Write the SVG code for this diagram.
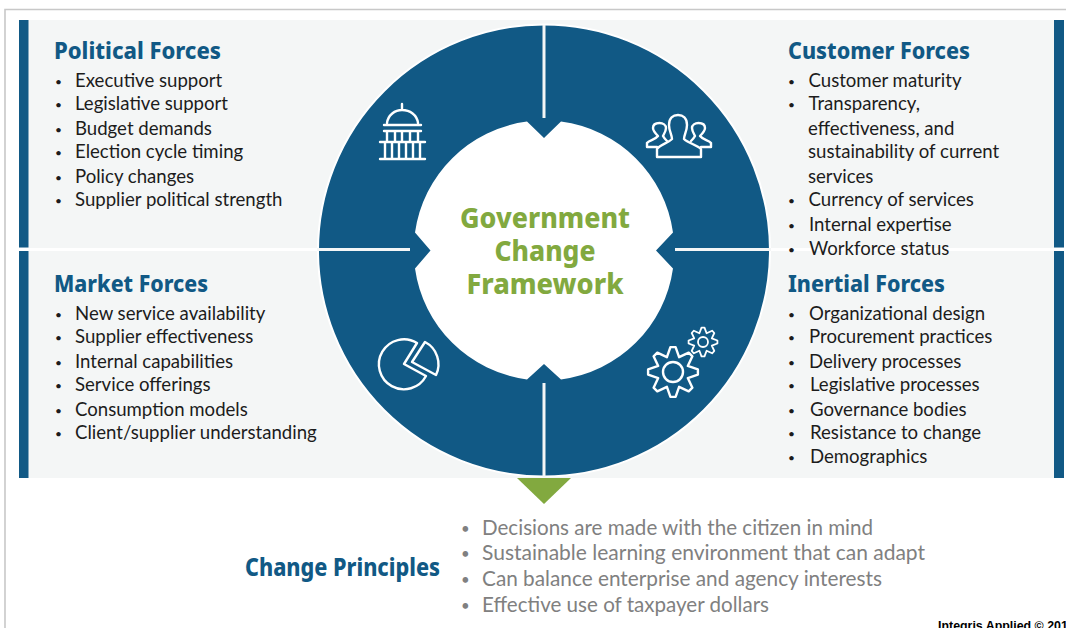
<svg xmlns="http://www.w3.org/2000/svg" width="1066" height="628" viewBox="0 0 1066 628">
<style>
.h{font-family:"Noto Sans","Open Sans",sans-serif;font-weight:800;font-size:22.500px;fill:#115985}
.b{font-family:Lato,"Noto Sans",sans-serif;font-size:18.600px;fill:#1c1c1c}
.d{font-family:Lato,"Noto Sans",sans-serif;font-size:12px;fill:#1c1c1c}
.g{font-family:Lato,"Noto Sans",sans-serif;font-size:21px;fill:#808080}
.e{font-family:Lato,"Noto Sans",sans-serif;font-size:15px;fill:#808080}
.c{font-family:"Noto Sans","Open Sans",sans-serif;font-weight:800;font-size:29px;fill:#82a93f;text-anchor:middle}
.i{fill:none;stroke:#fff;stroke-width:2.400;stroke-linejoin:round;stroke-linecap:round}
.bar{fill:#115985}
</style>
<rect width="1066" height="628" fill="#fff"/>
<path d="M5,628V9.500H1066" fill="none" stroke="#c8c8c8" stroke-width="1.600"/>
<g id="panels">
<rect x="19" y="20" width="1045" height="458" fill="#f4f6f6"/>
<rect x="19" y="248" width="1045" height="3" fill="#fff"/>
<rect class="bar" x="19" y="20" width="9.500" height="227.500"/>
<rect class="bar" x="19" y="251" width="9.500" height="227"/>
<rect class="bar" x="1054" y="20" width="10" height="227.500"/>
<rect class="bar" x="1054" y="251" width="10" height="227"/>
</g>
<g id="ring">
<circle cx="544" cy="250.500" r="226" fill="#115985" stroke="#fff" stroke-width="2"/>
<path d="M527,121.600L544,138L561,121.600A130,130 0 0 1 673,232.500L656,250.500L673,268.500A130,130 0 0 1 561,379.400L544,364L527,379.400A130,130 0 0 1 415,268.500L430.500,250.500L415,232.500A130,130 0 0 1 527,121.600Z" fill="#fff"/>
<path d="M544,25V118M544,383V477M317,249.500H410M675,249.500H771" stroke="#f4f6f6" stroke-width="3" fill="none"/>
</g>
<g id="icon-capitol" class="i">
<path d="M402,104V110M387,123C388,115 395,110 402,110C410,110 417,115 418,123M384,125H421M384,131H421M380,142H425M380,159H425M387,131V142M395,131V142M402,131V142M410,131V142M418,131V142M385,142V159M392,142V159M399,142V159M406,142V159M413,142V159M420,142V159"/>
</g>
<g id="icon-people" class="i">
<path d="M657,157V149C659,145 668,143 672,139C672,135 669,131 669,125C669,118 673,115 678,115C683,115 687,118 687,125C687,131 684,135 684,139C688,143 697,145 701,149V157Z"/>
<path d="M657,147H647V143C649,140 655,140 658,136C655,133 653,130 653,128C653,124 656,123 659.500,123C663,123 666,125 666,128C666,131 664,134 663,136C664,138 665,139 667,141"/>
<path d="M701,147H711V143C709,140 703,140 700,136C703,133 705,130 705,128C705,124 702,123 698.500,123C695,123 692,125 692,128C692,131 694,134 695,136C694,138 693,139 691,141"/>
</g>
<g id="icon-pie" class="i">
<path d="M417,343L404,364L426,376A25,25 0 1 1 417,343Z"/>
<path d="M412,362L425,342A25,25 0 0 1 436,375Z"/>
</g>
<g id="icon-gears" class="i">
<polygon points="670.400,347.100 675.600,347.100 679.100,357.200 688.700,352.600 692.400,356.300 687.800,365.900 697.900,369.400 697.900,374.600 687.800,378.100 692.400,387.700 688.700,391.400 679.100,386.800 675.600,396.900 670.400,396.900 666.900,386.800 657.300,391.400 653.600,387.700 658.200,378.100 648.100,374.600 648.100,369.400 658.200,365.900 653.600,356.300 657.300,352.600 666.900,357.200"/>
<circle cx="673" cy="372" r="10"/>
<polygon points="701.500,327.600 704.500,327.600 706.600,333.200 712.100,330.700 714.300,333 711.800,338.400 717.400,340.500 717.400,343.500 711.800,345.600 714.300,351 712.100,353.300 706.600,350.800 704.500,356.400 701.500,356.400 699.400,350.800 693.900,353.300 691.700,351 694.200,345.600 688.600,343.500 688.600,340.500 694.200,338.400 691.700,333 693.900,330.700 699.400,333.200" stroke-width="1.800"/>
<circle cx="703" cy="342" r="5" stroke-width="1.800"/>
</g>
<g id="center-title">
<text class="c" x="545" y="228" textLength="170" lengthAdjust="spacingAndGlyphs">Government</text>
<text class="c" x="545" y="261" textLength="101" lengthAdjust="spacingAndGlyphs">Change</text>
<text class="c" x="545" y="294" textLength="157" lengthAdjust="spacingAndGlyphs">Framework</text>
</g>
<g id="political-forces">
<text class="h" x="54" y="58.500" textLength="167" lengthAdjust="spacingAndGlyphs">Political Forces</text>
<text class="d" x="55" y="86">•</text><text class="b" x="75" y="87">Executive support</text>
<text class="d" x="55" y="109">•</text><text class="b" x="75" y="110">Legislative support</text>
<text class="d" x="55" y="134">•</text><text class="b" x="75" y="135">Budget demands</text>
<text class="d" x="55" y="157">•</text><text class="b" x="75" y="158">Election cycle timing</text>
<text class="d" x="55" y="182">•</text><text class="b" x="75" y="183">Policy changes</text>
<text class="d" x="55" y="205">•</text><text class="b" x="75" y="206">Supplier political strength</text>
</g>
<g id="customer-forces">
<text class="h" x="788" y="58.500" textLength="182" lengthAdjust="spacingAndGlyphs">Customer Forces</text>
<text class="d" x="788" y="86">•</text><text class="b" x="808.500" y="87">Customer maturity</text>
<text class="d" x="788" y="109">•</text><text class="b" x="808.500" y="110">Transparency,</text>
<text class="b" x="808" y="135">effectiveness, and</text>
<text class="b" x="808" y="158">sustainability of current</text>
<text class="b" x="808" y="183">services</text>
<text class="d" x="788" y="205">•</text><text class="b" x="808.500" y="206">Currency of services</text>
<text class="d" x="788" y="230">•</text><text class="b" x="809" y="231">Internal expertise</text>
<text class="d" x="788" y="254">•</text><text class="b" x="809" y="255">Workforce status</text>
</g>
<g id="market-forces">
<text class="h" x="54" y="291.500" textLength="154" lengthAdjust="spacingAndGlyphs">Market Forces</text>
<text class="d" x="55" y="319">•</text><text class="b" x="75" y="320">New service availability</text>
<text class="d" x="55" y="342">•</text><text class="b" x="75" y="343">Supplier effectiveness</text>
<text class="d" x="55" y="367">•</text><text class="b" x="75" y="368">Internal capabilities</text>
<text class="d" x="55" y="390">•</text><text class="b" x="75" y="391">Service offerings</text>
<text class="d" x="55" y="415">•</text><text class="b" x="75" y="416">Consumption models</text>
<text class="d" x="55" y="438">•</text><text class="b" x="75" y="439">Client/supplier understanding</text>
</g>
<g id="inertial-forces">
<text class="h" x="788" y="291.500" textLength="157" lengthAdjust="spacingAndGlyphs">Inertial Forces</text>
<text class="d" x="788" y="319">•</text><text class="b" x="809" y="320">Organizational design</text>
<text class="d" x="788" y="342">•</text><text class="b" x="809" y="343">Procurement practices</text>
<text class="d" x="788" y="367">•</text><text class="b" x="809" y="368">Delivery processes</text>
<text class="d" x="788" y="390">•</text><text class="b" x="810" y="391">Legislative processes</text>
<text class="d" x="788" y="415">•</text><text class="b" x="810" y="416">Governance bodies</text>
<text class="d" x="788" y="438">•</text><text class="b" x="810" y="439">Resistance to change</text>
<text class="d" x="788" y="462">•</text><text class="b" x="810" y="463">Demographics</text>
</g>
<g id="connectors">
<polygon points="517,478 571,478 544,504" fill="#82a93f"/>
</g>
<g id="change-principles">
<text class="h" x="245" y="576" style="font-size:24px" textLength="195" lengthAdjust="spacingAndGlyphs">Change Principles</text>
<text class="e" x="461" y="534">•</text><text class="g" x="482" y="535" textLength="391" lengthAdjust="spacingAndGlyphs">Decisions are made with the citizen in mind</text>
<text class="e" x="461" y="559">•</text><text class="g" x="482" y="560" textLength="443" lengthAdjust="spacingAndGlyphs">Sustainable learning environment that can adapt</text>
<text class="e" x="461" y="585">•</text><text class="g" x="482" y="586" textLength="400" lengthAdjust="spacingAndGlyphs">Can balance enterprise and agency interests</text>
<text class="e" x="461" y="611">•</text><text class="g" x="482" y="612" textLength="287" lengthAdjust="spacingAndGlyphs">Effective use of taxpayer dollars</text>
</g>
<text id="credit" x="938" y="630" font-family="'Liberation Sans',Arial,sans-serif" font-weight="700" font-size="12.400" fill="#000">Integris Applied © 201</text>
</svg>
